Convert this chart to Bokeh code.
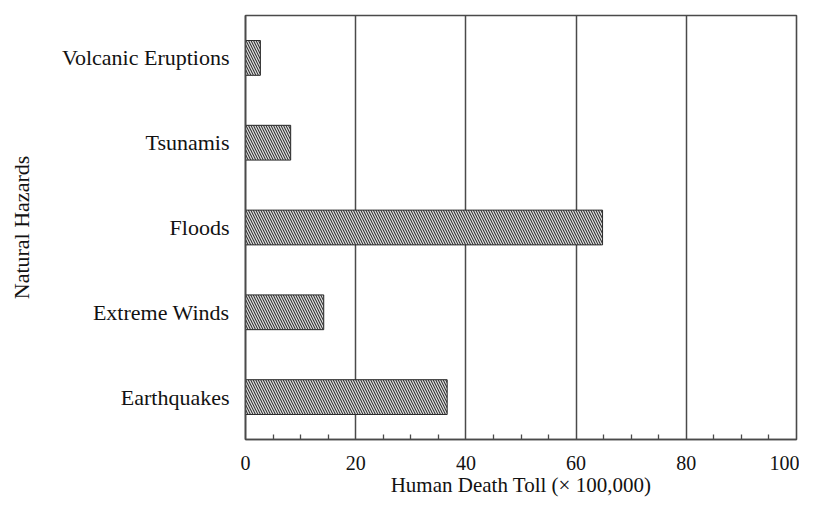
from bokeh.plotting import figure
from bokeh.models import FactorRange, Range1d, FixedTicker, ColumnDataSource
from bokeh.embed import file_html
from bokeh.resources import INLINE

hazards = ["Earthquakes", "Extreme Winds", "Floods", "Tsunamis", "Volcanic Eruptions"]
death_toll = [36.6, 14.2, 64.8, 8.2, 2.7]
x_ticks = [0, 20, 40, 60, 80, 100]
x_minor = [5, 10, 15, 25, 30, 35, 45, 50, 55, 65, 70, 75, 85, 90, 95]

FONT = "Liberation Serif"
TXT = "#121212"
LINE = "#4a4a4a"

src = ColumnDataSource(dict(y=hazards, right=death_toll))

p = figure(y_range=FactorRange(factors=hazards, range_padding=0),
           x_range=Range1d(0, 100),
           width=799, height=499,
           min_border_left=245, min_border_top=15, min_border_right=3, min_border_bottom=0,
           output_backend="svg", toolbar_location=None)

p.hbar(y="y", left=0, right="right", height=0.41, source=src,
       fill_color="#333333", line_color="#2a2a2a", line_width=1,
       hatch_pattern="left_diagonal_line", hatch_color="#e4e4e4",
       hatch_weight=1.2, hatch_scale=5)

p.outline_line_color = LINE
p.outline_line_width = 1.6
p.background_fill_color = "white"
p.border_fill_color = "white"

p.ygrid.visible = False
p.xgrid.grid_line_color = LINE
p.xgrid.grid_line_width = 1.5
p.xgrid.ticker = FixedTicker(ticks=[20, 40, 60, 80])

xa = p.xaxis[0]
xa.ticker = FixedTicker(ticks=x_ticks, minor_ticks=x_minor)
xa.axis_line_color = LINE
xa.axis_line_width = 1.6
xa.major_tick_line_color = None
xa.major_tick_out = 0
xa.major_tick_in = 0
xa.minor_tick_line_color = LINE
xa.minor_tick_line_width = 1.3
xa.minor_tick_in = 5
xa.minor_tick_out = 0
xa.major_label_standoff = 16
xa.major_label_text_font = FONT
xa.major_label_text_font_size = "20px"
xa.major_label_text_color = TXT
xa.axis_label = "Human Death Toll (\u00d7 100,000)"
xa.axis_label_text_font = FONT
xa.axis_label_text_font_size = "21px"
xa.axis_label_text_font_style = "normal"
xa.axis_label_text_color = TXT
xa.axis_label_standoff = 0

ya = p.yaxis[0]
ya.axis_line_color = LINE
ya.axis_line_width = 1.6
ya.major_tick_line_color = None
ya.major_tick_out = 0
ya.major_tick_in = 0
ya.minor_tick_line_color = None
ya.major_label_standoff = 16
ya.major_label_text_font = FONT
ya.major_label_text_font_size = "22px"
ya.major_label_text_color = TXT
ya.axis_label = "Natural Hazards"
ya.axis_label_text_font = FONT
ya.axis_label_text_font_size = "22px"
ya.axis_label_text_font_style = "normal"
ya.axis_label_text_color = TXT
ya.axis_label_standoff = 25

open("out.html", "w").write(file_html(p, INLINE))
